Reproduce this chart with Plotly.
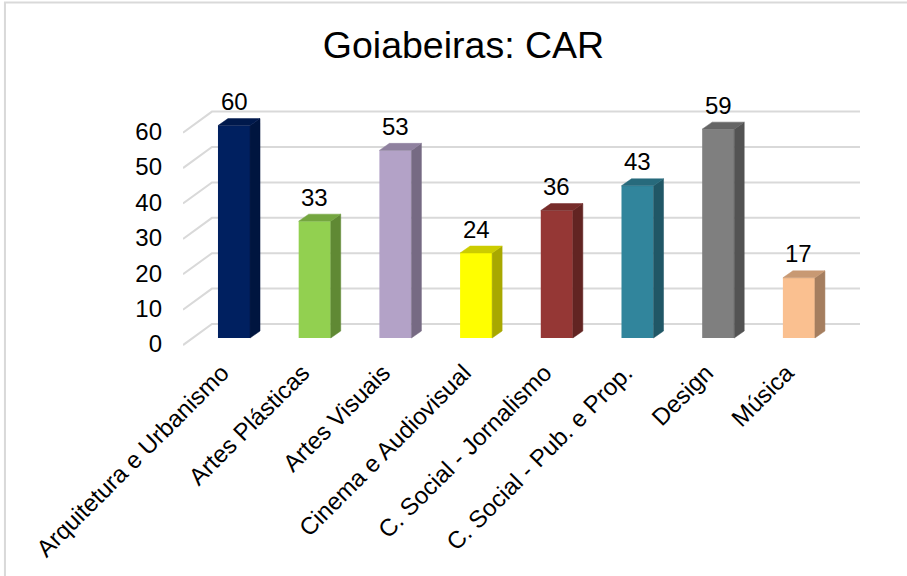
import plotly.graph_objects as go

cursos = ['Arquitetura e Urbanismo', 'Artes Plásticas', 'Artes Visuais',
          'Cinema e Audiovisual', 'C. Social - Jornalismo',
          'C. Social - Pub. e Prop.', 'Design', 'Música']
valores = [60, 33, 53, 24, 36, 43, 59, 17]
ticks_y = [0, 10, 20, 30, 40, 50, 60]

cores = ['#002060', '#92D050', '#B3A2C7', '#FFFF00',
         '#953735', '#31859C', '#7F7F7F', '#FAC090']


def escurecer(hexcor, f):
    r, g, b = (int(hexcor[i:i + 2], 16) for i in (1, 3, 5))
    return 'rgb(%d,%d,%d)' % (r * f, g * f, b * f)


# geometria do "3D" (em unidades dos eixos)
larg = 0.397        # largura da barra
prof_x = 0.124      # profundidade da barra em x
prof_y = 1.98       # profundidade da barra em y
fundo_x0 = -0.273   # inicio da parede do fundo
frente_x0 = -0.632
desl_fundo = 3.95   # grade do fundo acima da frente da barra
desl_frente = -2.0
x_max = 7.757

fig = go.Figure()

# grade (parede do fundo + diagonais do piso), por baixo das barras
for t in ticks_y:
    fig.add_shape(type='path', xref='x', yref='y', layer='below',
                  path='M %f,%f L %f,%f L %f,%f' % (
                      frente_x0, t + desl_frente, fundo_x0, t + desl_fundo,
                      x_max, t + desl_fundo),
                  line=dict(color='#D9D9D9', width=2))

# faces frontais
fig.add_trace(go.Bar(x=list(range(len(cursos))), y=valores, width=larg,
                     marker=dict(color=cores, line=dict(width=0)),
                     hoverinfo='y', showlegend=False))

# faces laterais e de cima
for i, (v, c) in enumerate(zip(valores, cores)):
    d = i + larg / 2
    e = i - larg / 2
    fig.add_trace(go.Scatter(
        x=[d, d + prof_x, d + prof_x, d, d],
        y=[0, prof_y, v + prof_y, v, 0],
        fill='toself', fillcolor=escurecer(c, 0.66), mode='lines',
        line=dict(width=0.5, color=escurecer(c, 0.66)),
        hoverinfo='skip', showlegend=False))
    fig.add_trace(go.Scatter(
        x=[e, d, d + prof_x, e + prof_x, e],
        y=[v, v, v + prof_y, v + prof_y, v],
        fill='toself', fillcolor=escurecer(c, 0.8), mode='lines',
        line=dict(width=0.5, color=escurecer(c, 0.8)),
        hoverinfo='skip', showlegend=False))
    fig.add_annotation(x=i, y=v, text=str(v), showarrow=False,
                       yshift=24, yanchor='middle',
                       font=dict(size=24, color='#000000'))

fonte = 'Arial, Liberation Sans, sans-serif'
fig.update_layout(
    width=907, height=576,
    margin=dict(l=183, r=47, t=100, b=229),
    paper_bgcolor='white', plot_bgcolor='rgba(0,0,0,0)',
    font=dict(family=fonte, color='#000000'),
    title=dict(text='Goiabeiras: CAR', x=0.511, xanchor='center',
               y=0.922, yanchor='middle', font=dict(size=37.5)),
    xaxis=dict(range=[frente_x0, x_max],
               tickvals=[i - 0.15 for i in range(len(cursos))],
               ticktext=cursos, tickangle=-45, tickfont=dict(size=24),
               ticklabelstandoff=6,
               showgrid=False, zeroline=False, showline=False, ticks=''),
    yaxis=dict(range=[-2.54, 67.23],
               tickvals=[t - 1.7 for t in ticks_y],
               ticktext=[str(t) for t in ticks_y],
               tickfont=dict(size=24), ticklabelstandoff=20,
               showgrid=False, zeroline=False, showline=False, ticks=''),
)

# moldura do grafico
fig.add_shape(type='rect', xref='paper', yref='paper', layer='below',
              x0=-0.263, x1=1.1, y0=-1.0, y1=1.395,
              line=dict(color='#D9D9D9', width=2))

fig.write_html('out.html', config={'displayModeBar': False},
               post_script="document.body.style.margin='0px';")
